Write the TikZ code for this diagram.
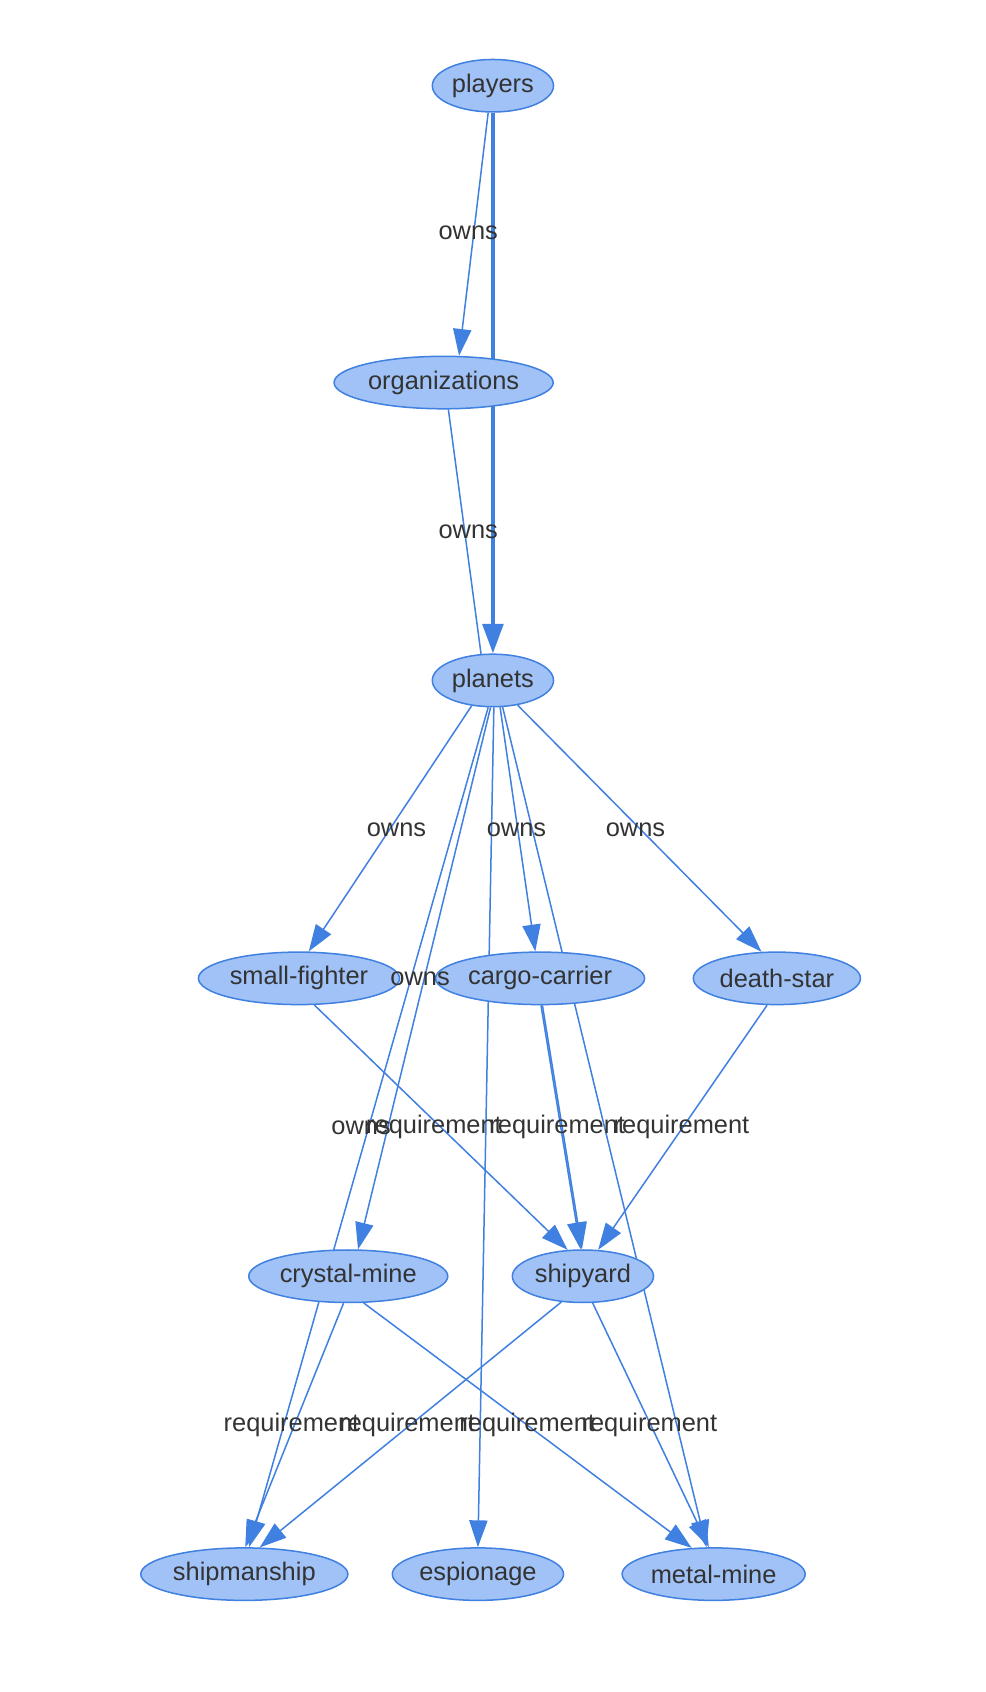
\documentclass[tikz,border=0pt]{standalone}
\usepackage{fontspec}
\setmainfont{Liberation Sans}
\usetikzlibrary{shapes.geometric,arrows.meta,backgrounds}
\definecolor{nodefill}{HTML}{A0C2F6}
\definecolor{edgeblue}{HTML}{4080E0}
\definecolor{labeltext}{HTML}{333333}
\tikzset{
  table/.style={ellipse, draw=edgeblue, fill=nodefill, thick, text=labeltext,
    inner xsep=1pt, inner ysep=1pt, minimum height=0.98cm, font=\fontsize{13.5}{16}\selectfont},
  rel/.style={draw=edgeblue, line width=0.8pt, -{Triangle[length=0.5cm,width=0.34cm]}},
  strong/.style={rel, line width=2.4pt, -{Triangle[length=0.55cm,width=0.38cm]}},
  tag/.style={text=labeltext, font=\fontsize{13.5}{16}\selectfont}
}
\begin{document}
\begin{tikzpicture}[x=0.02cm, y=-0.02cm]
\useasboundingbox (0,0) rectangle (920,1579);

\node[table, minimum width=2.2cm] (players) at (460,80) {players};
\node[table, minimum width=3.6cm] (organizations) at (414,357) {organizations};
\node[table, minimum width=2.2cm] (planets) at (460,635) {planets};
\node[table, minimum width=3.3cm] (smallfighter) at (279,913) {small-fighter};
\node[table, minimum width=3.4cm] (cargocarrier) at (504,913) {cargo-carrier};
\node[table, minimum width=2.9cm] (deathstar) at (725,913) {death-star};
\node[table, minimum width=3.3cm] (crystalmine) at (325,1191) {crystal-mine};
\node[table, minimum width=2.5cm] (shipyard) at (544,1191) {shipyard};
\node[table, minimum width=3.4cm] (shipmanship) at (228,1469) {shipmanship};
\node[table, minimum width=2.9cm] (espionage) at (446,1469) {espionage};
\node[table, minimum width=3.1cm] (metalmine) at (666,1469) {metal-mine};

\begin{scope}[on background layer]
% ownership
\draw[rel] (players.-100) -- (organizations.60);
\draw[rel] (organizations.-80) -- (planets.-100);
\draw[strong] (players.south) -- (planets.north);
\draw[rel] (planets.-130) -- (smallfighter.70);
\draw[rel] (planets.-75) -- (cargocarrier.100);
\draw[rel] (planets.-45) -- (deathstar.120);
\draw[rel] (planets.-95) -- (crystalmine.70);
\draw[rel] (planets.-100) -- (shipmanship.80);
\draw[rel] (planets.-88) -- (espionage.north);
\draw[rel] (planets.-70) -- (metalmine.105);
% requirements
\draw[rel] (smallfighter.-60) -- (shipyard.120);
\draw[rel] (cargocarrier.-88) -- (shipyard.95);
\draw[rel] (cargocarrier.-85) -- (shipyard.92);
\draw[rel] (deathstar.-110) -- (shipyard.60);
\draw[rel] (crystalmine.-100) -- (shipmanship.88);
\draw[rel] (shipyard.-130) -- (shipmanship.60);
\draw[rel] (crystalmine.-60) -- (metalmine.130);
\draw[rel] (shipyard.-70) -- (metalmine.100);
\end{scope}

\node[tag] (l1) at (437,217) {owns};
\node[tag] (l2) at (437,496) {owns};
\node[tag] (l3) at (370,774) {owns};
\node[tag] (l4) at (482,774) {owns};
\node[tag] (l5) at (593,774) {owns};
\node[tag] (l6) at (392,913) {owns};
\node[tag] (l7) at (337,1052) {owns};
\node[tag] (l8) at (405,1052) {requirement};
\node[tag] (l9) at (520,1052) {requirement};
\node[tag] (l10) at (636,1052) {requirement};
\node[tag] (l11) at (272,1330) {requirement};
\node[tag] (l12) at (380,1330) {requirement};
\node[tag] (l13) at (492,1330) {requirement};
\node[tag] (l14) at (606,1330) {requirement};
\end{tikzpicture}
\end{document}
